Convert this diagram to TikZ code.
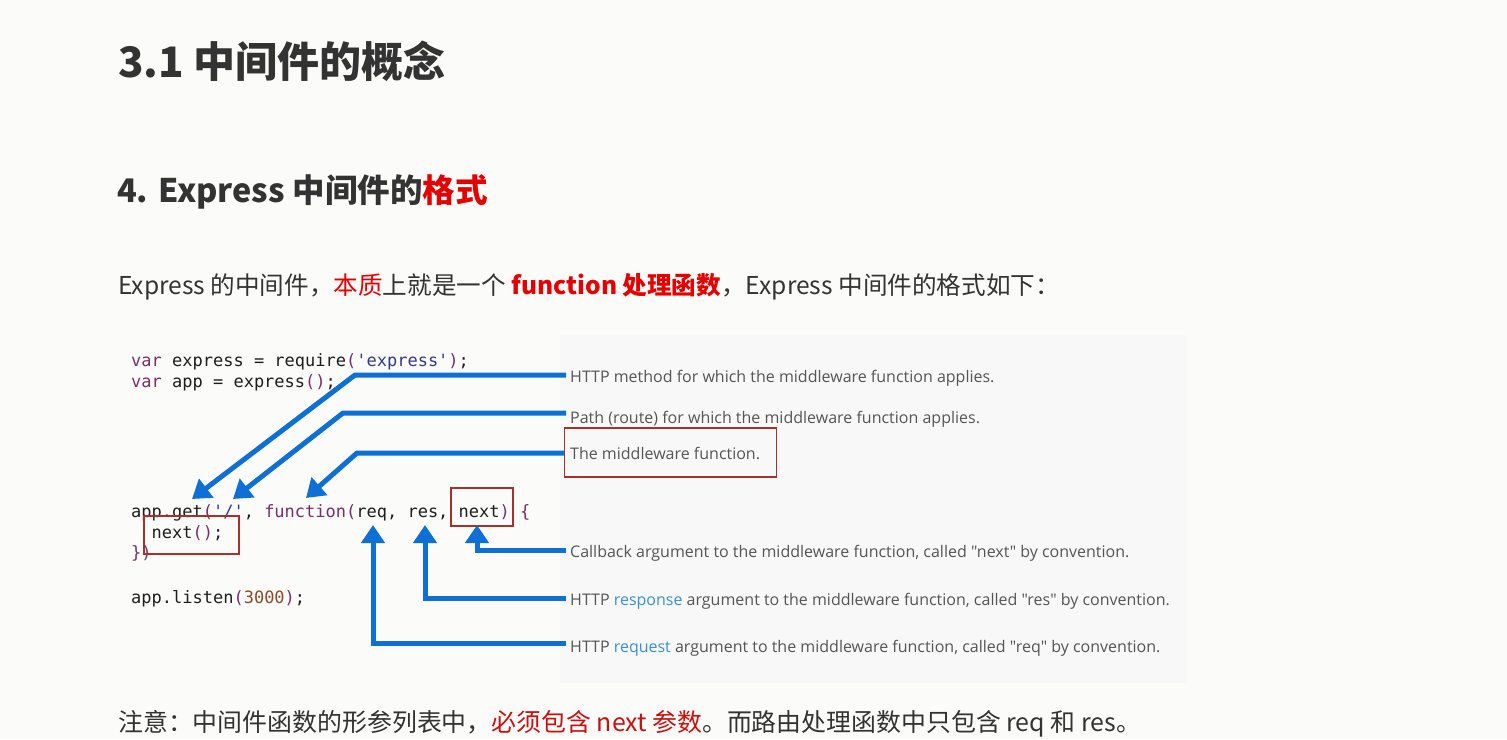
\documentclass[tikz,border=0pt]{standalone}
\usepackage{fontspec}
\usetikzlibrary{arrows.meta}
\newfontfamily\cjk{Noto Sans CJK SC}
\newfontfamily\codefont[Ligatures=TeXOff]{DejaVu Sans Mono}
\newfontfamily\lblfont{Open Sans}
\definecolor{pagebg}{HTML}{FBFCFA}
\definecolor{panelbg}{HTML}{F7F8F7}
\definecolor{ink}{HTML}{333333}
\definecolor{hot}{HTML}{E50000}
\definecolor{warn}{HTML}{C81010}
\definecolor{codeink}{HTML}{1E1E1E}
\definecolor{kwcol}{HTML}{7A2D6B}
\definecolor{strcol}{HTML}{33398A}
\definecolor{numcol}{HTML}{8B4A2A}
\definecolor{lblink}{HTML}{555555}
\definecolor{linkblue}{HTML}{3C8FD6}
\definecolor{arrowblue}{HTML}{0E6FD4}
\definecolor{boxred}{HTML}{A8302A}
\newcommand\kw[1]{\textcolor{kwcol}{#1}}
\newcommand\strv[1]{\textcolor{strcol}{#1}}
\newcommand\numv[1]{\textcolor{numcol}{#1}}
\begin{document}
\begin{tikzpicture}[x=1pt,y=-1pt,
  txt/.style={anchor=west,inner sep=0pt,text height=0.8em,text depth=0.2em},
  codeline/.style={txt,font=\codefont\fontsize{17}{20}\selectfont,text=codeink},
  note/.style={anchor=west,inner ysep=0pt,inner xsep=4pt,text height=0.75em,text depth=0.25em,
    font=\lblfont\fontsize{16}{19}\selectfont,text=lblink},
  redbox/.style={draw=boxred,line width=1.3pt,inner sep=0pt},
  pointer/.style={draw=arrowblue,line width=5pt,line join=miter,
    -{Triangle[width=23pt,length=18pt]}}]
\useasboundingbox (0,0) rectangle (1507,739);
\fill[pagebg] (0,0) rectangle (1507,739);
% screenshot panel behind the notes
\fill[panelbg] (560,335) rectangle (1187,683);

% headings
\node[txt,font=\cjk\bfseries\fontsize{42}{48}\selectfont,text=ink] (title) at (118,74) {3.1 中间件的概念};
\node[txt,font=\cjk\bfseries\fontsize{32.5}{38}\selectfont,text=ink] (sub) at (117,199) {4. Express 中间件的\textcolor{hot}{格式}};
\node[txt,font=\cjk\fontsize{24.6}{28}\selectfont,text=ink] (intro) at (118,291)
  {Express 的中间件，\textcolor{hot}{本质}上就是一个 \textcolor{hot}{\bfseries function 处理函数}，Express 中间件的格式如下：};
\node[txt,font=\cjk\fontsize{24.9}{28}\selectfont,text=ink] (remark) at (118,728)
  {注意：中间件函数的形参列表中，\textcolor{warn}{必须包含 next 参数}。而路由处理函数中只包含 req 和 res。};

% code
\node[codeline] (c1) at (131,363) {\kw{var} express = require\kw{(}\strv{'express'}\kw{)};};
\node[codeline] (c2) at (131,384) {\kw{var} app = express\kw{()};};
\node[codeline] (c3) at (131,514) {app.get\kw{(}\strv{'/'}, \kw{function(}req, res, next\kw{) \{}};
\node[codeline] (c4) at (151.4,535) {next\kw{()};};
\node[codeline] (c5) at (131,555) {\kw{\})}};
\node[codeline] (c6) at (131,600) {app.listen\kw{(}\numv{3000}\kw{)};};

% highlight boxes
\node[redbox,minimum width=62pt,minimum height=38pt] (bnext) at (482,507) {};
\node[redbox,minimum width=95pt,minimum height=38pt] (bcall) at (191.5,535) {};
\node[redbox,anchor=west,minimum width=212pt,minimum height=49pt] (bmid) at (564,452.5) {};

% notes
\node[note] (n1) at (566,380) {HTTP method for which the middleware function applies.};
\node[note] (n2) at (566,421) {Path (route) for which the middleware function applies.};
\node[note] (n3) at (566,457) {The middleware function.};
\node[note] (n4) at (566,555) {Callback argument to the middleware function, called "next" by convention.};
\node[note] (n5) at (566,603) {HTTP \textcolor{linkblue}{response} argument to the middleware function, called "res" by convention.};
\node[note] (n6) at (566,650) {HTTP \textcolor{linkblue}{request} argument to the middleware function, called "req" by convention.};

% bends and tips of the pointers
\coordinate (k1) at (355,375);  \coordinate (t1) at (192,499);
\coordinate (k2) at (343,413);  \coordinate (t2) at (233,499);
\coordinate (k3) at (357,453);  \coordinate (t3) at (306,498);
\coordinate (k4) at (477,550);  \coordinate (t4) at (477,525);
\coordinate (k5) at (425,598);  \coordinate (t5) at (425,525);
\coordinate (k6) at (373,643);  \coordinate (t6) at (373,525);

\draw[pointer] (n1.west |- k1) -- (k1) -- (t1);
\draw[pointer] (n2.west |- k2) -- (k2) -- (t2);
\draw[pointer] (bmid.west |- k3) -- (k3) -- (t3);
\draw[pointer] (n4.west |- k4) -- (k4) -- (t4);
\draw[pointer] (n5.west |- k5) -- (k5) -- (t5);
\draw[pointer] (n6.west |- k6) -- (k6) -- (t6);
\end{tikzpicture}
\end{document}
